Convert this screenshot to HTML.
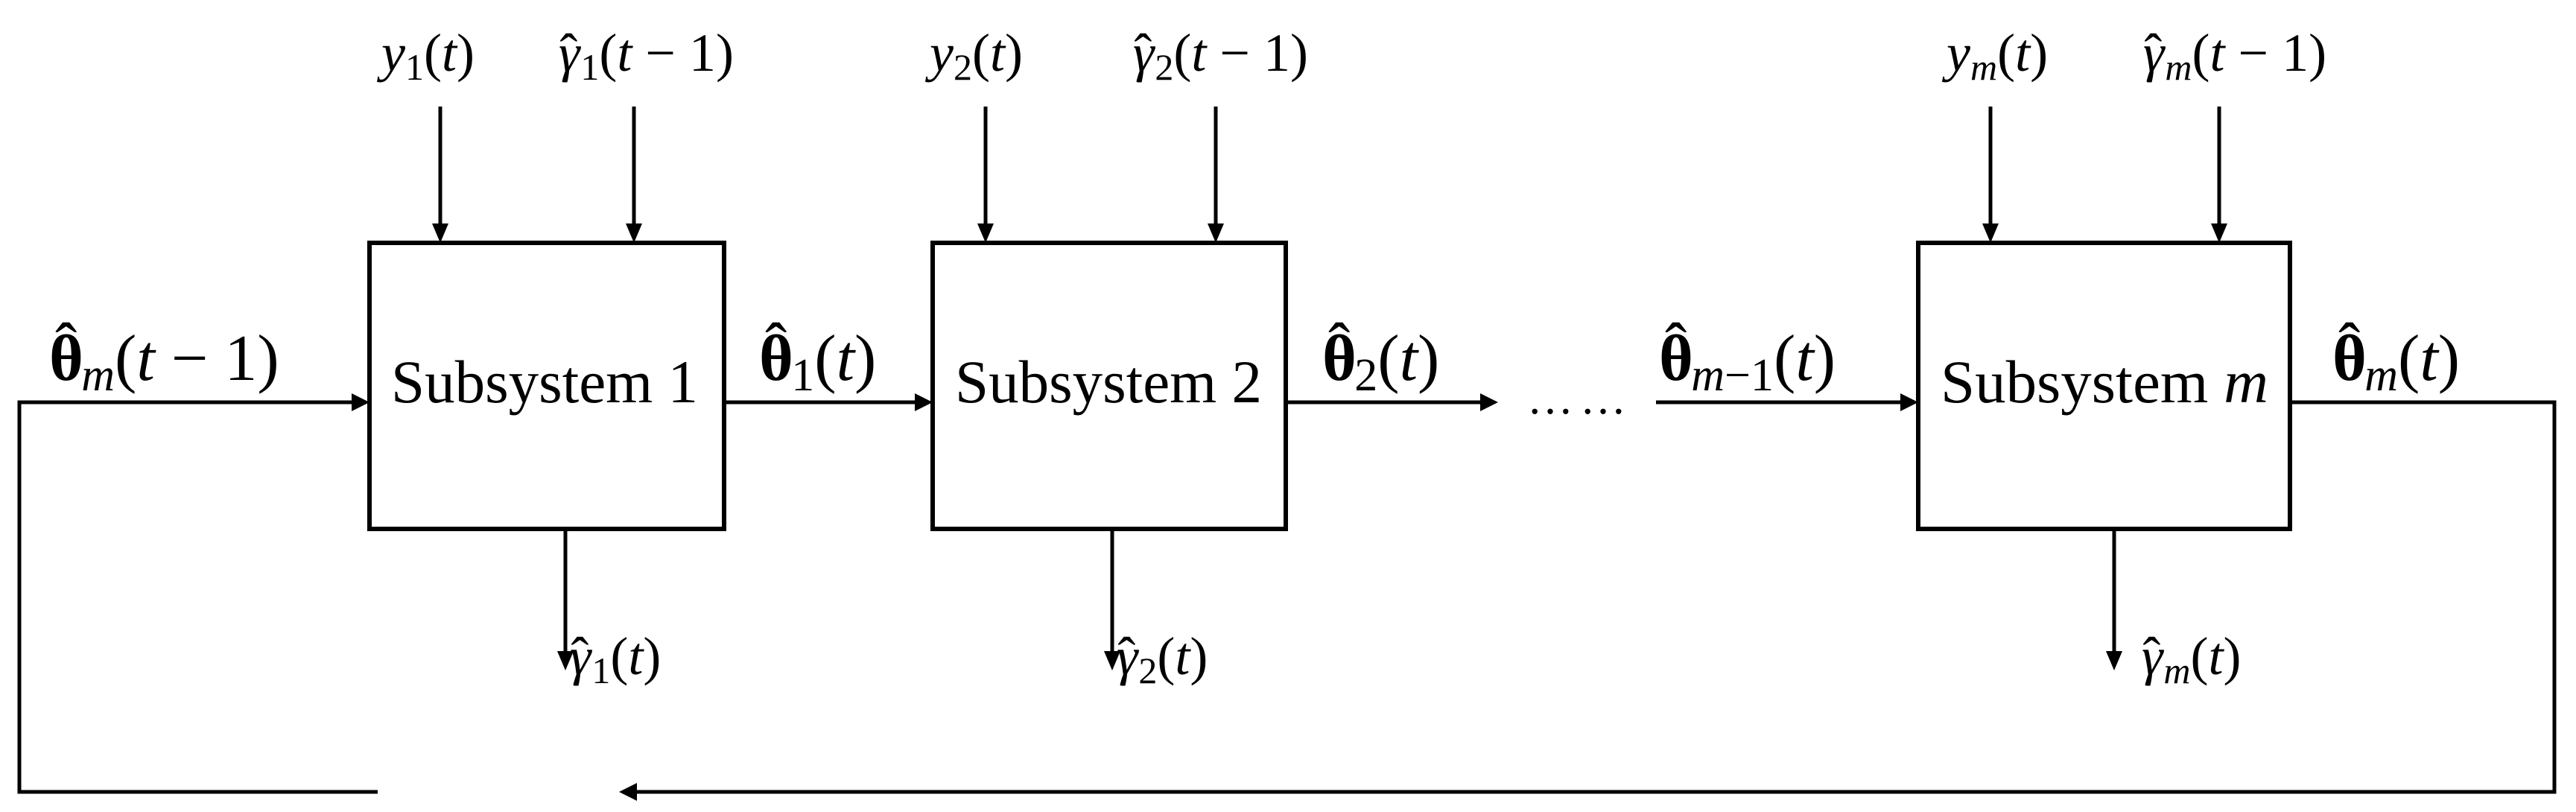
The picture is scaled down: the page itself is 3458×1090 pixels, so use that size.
<!DOCTYPE html>
<html><head><meta charset="utf-8"><style>html,body{margin:0;padding:0;background:#fff}svg{display:block}text{font-family:"Liberation Serif",serif;fill:#000}</style></head>
<body>
<svg width="3458" height="1090" viewBox="0 0 3458 1090" xmlns="http://www.w3.org/2000/svg">
<g fill="none" stroke="#000" stroke-width="5">
<rect x="496" y="326" width="476" height="384" stroke-width="6"/>
<rect x="1252" y="326" width="474" height="384" stroke-width="6"/>
<rect x="2575" y="326" width="499" height="384" stroke-width="6"/>
<polyline points="507,1063 26,1063 26,540 476,540"/>
<line x1="972" y1="540" x2="1232" y2="540"/>
<line x1="1726" y1="540" x2="1991" y2="540"/>
<line x1="2223" y1="540" x2="2555" y2="540"/>
<polyline points="3074,540 3429,540 3429,1063 851,1063"/>
<line x1="591" y1="143" x2="591" y2="306"/>
<line x1="851" y1="143" x2="851" y2="306"/>
<line x1="1323" y1="143" x2="1323" y2="306"/>
<line x1="1632" y1="143" x2="1632" y2="306"/>
<line x1="2672" y1="143" x2="2672" y2="306"/>
<line x1="2979" y1="143" x2="2979" y2="306"/>
<line x1="759" y1="710" x2="759" y2="880"/>
<line x1="1493" y1="710" x2="1493" y2="880"/>
<line x1="2838" y1="710" x2="2838" y2="880"/>
</g>
<g fill="#000">
<polygon points="496,540 472,528 472,552"/>
<polygon points="1252,540 1228,528 1228,552"/>
<polygon points="2011,540 1987,528 1987,552"/>
<polygon points="2575,540 2551,528 2551,552"/>
<polygon points="831,1063 855,1051 855,1075"/>
<polygon points="591,326 580,300 602,300"/>
<polygon points="851,326 840,300 862,300"/>
<polygon points="1323,326 1312,300 1334,300"/>
<polygon points="1632,326 1621,300 1643,300"/>
<polygon points="2672,326 2661,300 2683,300"/>
<polygon points="2979,326 2968,300 2990,300"/>
<polygon points="759,900 748,874 770,874"/>
<polygon points="1493,900 1482,874 1504,874"/>
<polygon points="2838,900 2827,874 2849,874"/>
</g>
<text x="2050" y="555" font-size="62" textLength="133">……</text>
<text x="525" y="540" font-size="82" textLength="412" lengthAdjust="spacingAndGlyphs">Subsystem 1</text>
<text x="1282" y="540" font-size="82" textLength="412" lengthAdjust="spacingAndGlyphs">Subsystem 2</text>
<text x="2605" y="540" font-size="82" textLength="440" lengthAdjust="spacingAndGlyphs">Subsystem <tspan font-style="italic">m</tspan></text>
<g font-size="72">
<text x="512" y="95"><tspan font-style="italic">y</tspan><tspan font-size="50" dy="12">1</tspan><tspan dy="-12">(</tspan><tspan font-style="italic">t</tspan>)</text>
<text x="750" y="95"><tspan font-style="italic">γ</tspan><tspan dx="-27">ˆ</tspan><tspan font-size="50" dx="4" dy="12">1</tspan><tspan dy="-12">(</tspan><tspan font-style="italic">t</tspan> − 1)</text>
<text x="1248" y="95"><tspan font-style="italic">y</tspan><tspan font-size="50" dy="12">2</tspan><tspan dy="-12">(</tspan><tspan font-style="italic">t</tspan>)</text>
<text x="1521" y="95"><tspan font-style="italic">γ</tspan><tspan dx="-27">ˆ</tspan><tspan font-size="50" dx="4" dy="12">2</tspan><tspan dy="-12">(</tspan><tspan font-style="italic">t</tspan> − 1)</text>
<text x="2613" y="95"><tspan font-style="italic">y</tspan><tspan font-size="50" font-style="italic" dy="12">m</tspan><tspan dy="-12">(</tspan><tspan font-style="italic">t</tspan>)</text>
<text x="2877" y="95"><tspan font-style="italic">γ</tspan><tspan dx="-27">ˆ</tspan><tspan font-size="50" font-style="italic" dx="4" dy="12">m</tspan><tspan dy="-12">(</tspan><tspan font-style="italic">t</tspan> − 1)</text>
<text x="765" y="905"><tspan font-style="italic">γ</tspan><tspan dx="-27">ˆ</tspan><tspan font-size="50" dx="4" dy="12">1</tspan><tspan dy="-12">(</tspan><tspan font-style="italic">t</tspan>)</text>
<text x="1499" y="905"><tspan font-style="italic">γ</tspan><tspan dx="-27">ˆ</tspan><tspan font-size="50" dx="4" dy="12">2</tspan><tspan dy="-12">(</tspan><tspan font-style="italic">t</tspan>)</text>
<text x="2875" y="905"><tspan font-style="italic">γ</tspan><tspan dx="-27">ˆ</tspan><tspan font-size="50" font-style="italic" dx="4" dy="12">m</tspan><tspan dy="-12">(</tspan><tspan font-style="italic">t</tspan>)</text>
</g>
<g font-size="88">
<text x="66" y="510"><tspan font-weight="bold">θ</tspan><tspan dx="-38" dy="-16">ˆ</tspan><tspan font-size="62" font-style="italic" dx="6" dy="30">m</tspan><tspan dy="-14">(</tspan><tspan font-style="italic">t</tspan> − 1)</text>
<text x="1019" y="510"><tspan font-weight="bold">θ</tspan><tspan dx="-38" dy="-16">ˆ</tspan><tspan font-size="62" dx="6" dy="30">1</tspan><tspan dy="-14">(</tspan><tspan font-style="italic">t</tspan>)</text>
<text x="1775" y="510"><tspan font-weight="bold">θ</tspan><tspan dx="-38" dy="-16">ˆ</tspan><tspan font-size="62" dx="6" dy="30">2</tspan><tspan dy="-14">(</tspan><tspan font-style="italic">t</tspan>)</text>
<text x="2227" y="510"><tspan font-weight="bold">θ</tspan><tspan dx="-38" dy="-16">ˆ</tspan><tspan font-size="62" font-style="italic" dx="6" dy="30">m</tspan><tspan font-size="62">−1</tspan><tspan dy="-14">(</tspan><tspan font-style="italic">t</tspan>)</text>
<text x="3131" y="510"><tspan font-weight="bold">θ</tspan><tspan dx="-38" dy="-16">ˆ</tspan><tspan font-size="62" font-style="italic" dx="6" dy="30">m</tspan><tspan dy="-14">(</tspan><tspan font-style="italic">t</tspan>)</text>
</g>
</svg>
</body></html>
